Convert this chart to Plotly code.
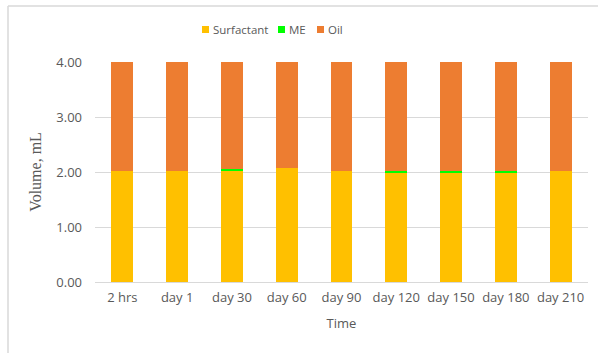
import plotly.graph_objects as go

# Stability of the three layers over storage time (volumes in mL)
time_points = ["2 hrs", "day 1", "day 30", "day 60", "day 90",
               "day 120", "day 150", "day 180", "day 210"]
surfactant = [2.02, 2.02, 2.02, 2.08, 2.02, 1.99, 1.99, 1.99, 2.02]
me = [0.00, 0.00, 0.03, 0.00, 0.00, 0.03, 0.03, 0.03, 0.00]
total_volume = 4.00
oil = [round(total_volume - s - m, 2) for s, m in zip(surfactant, me)]

series_names = ["Surfactant", "ME", "Oil"]
series_colors = ["#FFC000", "#00FF00", "#ED7D31"]
y_ticks = [0, 1, 2, 3, 4]

W, H = 598, 353
ML, MR, MT, MB = 95, 10, 62, 71
PW = W - ML - MR
PH = H - MT - MB

def px_x(x):
    return (x - ML) / PW

def px_y(y):
    return (H - MB - y) / PH

TXT = "#595959"
GRID = "#d9d9d9"
FONT = "Open Sans"

fig = go.Figure()
for name, vals, col in zip(series_names, [surfactant, me, oil], series_colors):
    fig.add_trace(go.Bar(name=name, x=time_points, y=vals, showlegend=False,
                         marker=dict(color=col, line=dict(width=0))))

# chart-area frame (top and left edges)
shapes = [
    dict(type="line", xref="paper", yref="paper",
         x0=px_x(8), x1=px_x(W + 5), y0=px_y(6), y1=px_y(6),
         line=dict(color=GRID, width=1.5)),
    dict(type="line", xref="paper", yref="paper",
         x0=px_x(8), x1=px_x(8), y0=px_y(6), y1=px_y(H + 5),
         line=dict(color=GRID, width=1.5)),
]
# compact legend row above the plot: swatch + label per series
annotations = []
legend_x = [202, 278, 317]
for name, col, lx in zip(series_names, series_colors, legend_x):
    shapes.append(dict(type="rect", xref="paper", yref="paper",
                       x0=px_x(lx), x1=px_x(lx + 7), y0=px_y(33), y1=px_y(26),
                       fillcolor=col, line=dict(width=0)))
    annotations.append(dict(text=name, xref="paper", yref="paper",
                            x=px_x(lx + 9), y=px_y(29.5), xanchor="left",
                            yanchor="middle", showarrow=False,
                            font=dict(family=FONT, size=11.5, color=TXT)))

fig.update_layout(
    width=W, height=H,
    margin=dict(l=ML, r=MR, t=MT, b=MB),
    barmode="stack",
    bargap=0.6,
    plot_bgcolor="white",
    paper_bgcolor="white",
    font=dict(family=FONT, size=13, color=TXT),
    showlegend=False,
    shapes=shapes,
    annotations=annotations,
)
fig.update_xaxes(showline=True, linecolor=GRID, linewidth=1,
                 ticks="", ticklabelstandoff=3, tickfont=dict(size=13, color=TXT),
                 title=dict(text="Time", font=dict(size=13, color=TXT), standoff=14))
fig.update_yaxes(range=[0, total_volume], tickvals=y_ticks, tickformat=".2f",
                 showgrid=True, gridcolor=GRID, gridwidth=1,
                 zeroline=False, showline=False, ticklabelstandoff=12,
                 tickfont=dict(size=13, color=TXT),
                 title=dict(text="Volume, mL",
                            font=dict(family="Liberation Serif", size=16, color=TXT),
                            standoff=10))

fig.write_html("out.html")
